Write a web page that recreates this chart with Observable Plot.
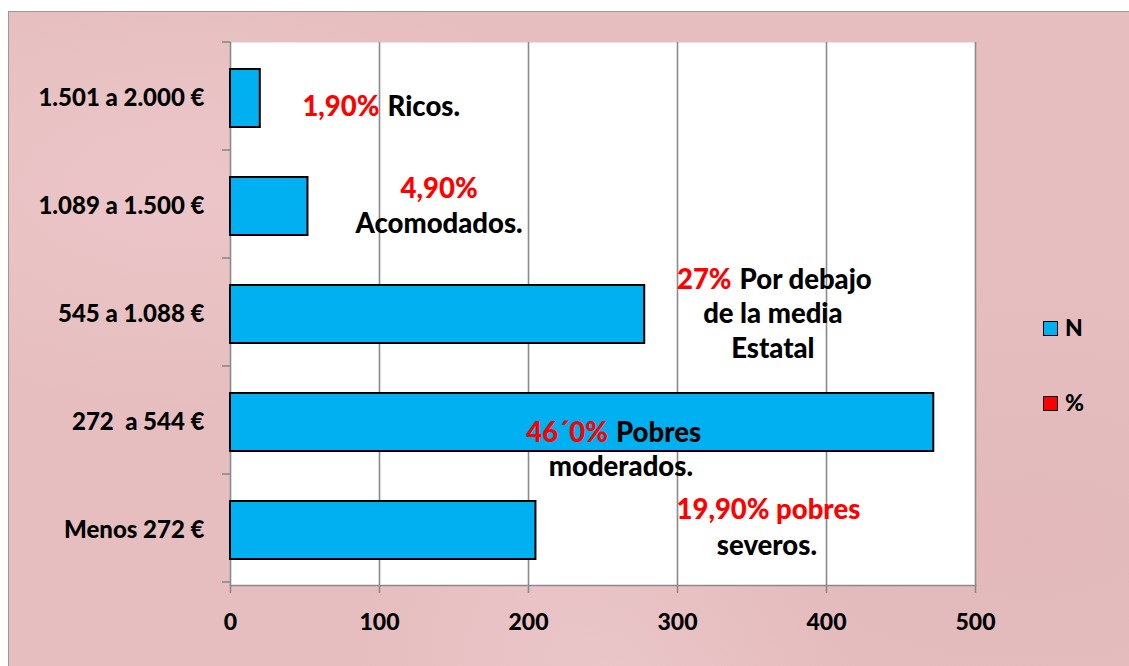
<!DOCTYPE html>
<html>
<head>
<meta charset="utf-8">
<script src="https://cdn.jsdelivr.net/npm/d3@7"></script>
<script src="https://cdn.jsdelivr.net/npm/@observablehq/plot@0.6"></script>
<style>
  html, body { margin: 0; padding: 0; background: #ffffff; }
  #wrap { position: relative; width: 1129px; height: 666px; overflow: hidden; font-family: Lato, sans-serif; }
  #bg {
    position: absolute; left: 8px; top: 11px; width: 1200px; height: 700px;
    border: 1.5px solid #9a9a9a;
    background:
      radial-gradient(ellipse at 15% 25%, rgba(240,205,207,0.5), rgba(240,205,207,0) 30%),
      radial-gradient(ellipse at 85% 75%, rgba(220,175,178,0.35), rgba(220,175,178,0) 35%),
      radial-gradient(ellipse at 50% 95%, rgba(240,208,210,0.45), rgba(240,208,210,0) 30%),
      #e6bec0;
  }
  #chart { position: absolute; left: 0; top: 0; }
  #chart svg { background: transparent !important; }
  .leg { position: absolute; font-weight: 900; font-size: 23px; color: #000; line-height: 1; }
  .leg .sw { display: inline-block; width: 13px; height: 13px; border: 1.5px solid #000; vertical-align: middle; margin-right: 7px; position: relative; top: -2px; }
</style>
</head>
<body>
<div id="wrap">
  <div id="bg"></div>
  <div id="chart"></div>
  <div id="legend"></div>
</div>
<script>
// ---- data ----
const categories = ["1.501 a 2.000 €", "1.089 a 1.500 €", "545 a 1.088 €", "272\u00a0 a 544 €", "Menos 272 €"];
const values = [20, 52, 278, 472, 205];
const xTicks = [0, 100, 200, 300, 400, 500];
const seriesNames = ["N", "%"];
const seriesColors = ["#00B0F0", "#FF0000"];

// annotation texts (anchored in data coords)
const annoCat   = [0, 0, 1, 1, 2, 2, 2, 2, 3, 3, 3, 4, 4];
const annoX     = [102.7, 102.7, 140, 140, 339, 339, 364, 364, 256, 256, 262, 361, 360];
const annoText  = ["1,90%", "Ricos.", "4,90%", "Acomodados.", "27%", "Por debajo", "de la media", "Estatal", "46´0%", "Pobres", "moderados.", "19,90% pobres", "severos."];
const annoRed   = [true, false, true, false, true, false, false, false, true, false, false, true, false];
const annoLine  = [0, 0, -0.5, 0.5, -1, -1, 0, 1, 0.3, 0.3, 1.3, -0.6, 0.45];
const annoAlign = ["end", "start", "middle", "middle", "end", "start", "middle", "middle", "end", "start", "middle", "middle", "middle"];

const data = categories.map((c, i) => ({cat: c, value: values[i]}));
const annos = annoText.map((t, i) => ({
  cat: categories[annoCat[i]], x: annoX[i], text: t, red: annoRed[i], line: annoLine[i], align: annoAlign[i]
}));

const FONT = "Lato, sans-serif";
const lineH = 34.5;
const baseShift = 9;
function textMark(align, red) {
  const sub = annos.filter(a => a.align === align && a.red === red);
  return sub.map(a => Plot.text([a], {
    x: "x", y: "cat", text: "text",
    textAnchor: align,
    dx: align === "end" ? -4 : align === "start" ? 4 : 0,
    dy: a.line * lineH + (a.cat === categories[0] ? baseShift : 0),
    fill: red ? "#FF0000" : "#000000",
    fontSize: 27.5, fontWeight: 900, fontFamily: FONT
  }));
}

const plot = Plot.plot({
  width: 1129,
  height: 666,
  marginLeft: 230,
  marginRight: 154,
  marginTop: 42,
  marginBottom: 81,
  style: {background: "transparent", fontFamily: FONT},
  x: {domain: [0, 500], label: null},
  y: {domain: categories, paddingInner: 0.465, paddingOuter: 0.2325, label: null},
  marks: [
    Plot.frame({fill: "white", stroke: null}),
    Plot.gridX(xTicks.slice(1), {stroke: "#8a8a8a", strokeOpacity: 1, strokeWidth: 1.6}),
    Plot.frame({anchor: "left", stroke: "#8a8a8a", strokeWidth: 1.6}),
    Plot.frame({anchor: "bottom", stroke: "#8a8a8a", strokeWidth: 1.6}),
    Plot.barX(data, {x: "value", y: "cat", fill: seriesColors[0], stroke: "#000", strokeWidth: 2}),
    Plot.axisX({ticks: xTicks, tickFormat: d => String(d), tickSize: 8, tickPadding: 20, stroke: "#8a8a8a", strokeWidth: 1.6,
                fontSize: 23, fontWeight: 900, fill: "#000", label: null}),
    Plot.axisY({tickSize: 0, tickPadding: 26, fontSize: 24, fontWeight: 900, fill: "#000", label: null}),
    ...["end", "start", "middle"].flatMap(al => [...textMark(al, true), ...textMark(al, false)])
  ]
});

document.getElementById("chart").appendChild(plot);

// band-boundary tick marks on the category axis, from the plot's own y scale
const ys = plot.scale("y");
const y0 = Math.min(...ys.range);
const svg = d3.select(plot);
const xs = plot.scale("x");
const xLeft = xs.apply(0);
for (let i = 0; i <= categories.length; i++) {
  const yy = y0 + i * ys.step;
  svg.append("line")
    .attr("x1", xLeft - 8).attr("x2", xLeft)
    .attr("y1", yy).attr("y2", yy)
    .attr("stroke", "#8a8a8a").attr("stroke-width", 1.6);
}

// legend
const legend = document.getElementById("legend");
const legendTop = [316, 391];
seriesNames.forEach((n, i) => {
  const d = document.createElement("div");
  d.className = "leg";
  d.style.left = "1043px";
  d.style.top = legendTop[i] + "px";
  d.innerHTML = `<span class="sw" style="background:${seriesColors[i]}"></span>${n}`;
  legend.appendChild(d);
});
</script>
</body>
</html>
